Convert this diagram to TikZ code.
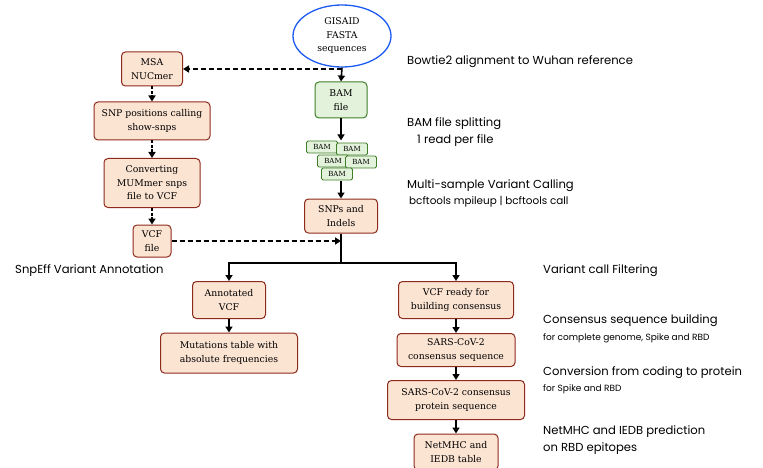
\documentclass[tikz,border=0pt]{standalone}
\usepackage{fontspec}
\setmainfont{DejaVu Serif}
\newfontfamily\stagefont{Poppins}
\usetikzlibrary{positioning,arrows.meta,fit,shapes.geometric}
\definecolor{procFill}{HTML}{FCE4D3}
\definecolor{procStroke}{HTML}{8E2A1C}
\definecolor{bamFill}{HTML}{E3F2DA}
\definecolor{bamStroke}{HTML}{3F7F2C}
\definecolor{srcStroke}{HTML}{1E5BF0}

\begin{document}
\begin{tikzpicture}[
  x=1pt, y=-1pt,
  font=\fontsize{9.3}{13.5}\selectfont,
  proc/.style  ={draw=procStroke, fill=procFill, rounded corners=4pt, line width=1pt, align=center, inner sep=1pt},
  bamf/.style  ={draw=bamStroke, fill=bamFill, rounded corners=4pt, line width=1pt, align=center, inner sep=1pt},
  bamchip/.style={draw=bamStroke, fill=bamFill, rounded corners=1.5pt, line width=0.8pt, minimum width=31pt, minimum height=12pt, inner sep=0pt, font=\fontsize{7}{7}\selectfont},
  src/.style   ={ellipse, draw=srcStroke, line width=1.3pt, fill=white, align=center, inner sep=0pt},
  arr/.style   ={-{Triangle[length=6pt,width=7pt]}, line width=1.6pt},
  dasharr/.style={arr, dash pattern=on 5pt off 3pt},
  dotarr/.style ={arr, dash pattern=on 3pt off 1.5pt},
  stage/.style ={font=\stagefont\fontsize{11.6}{13}\selectfont, anchor=west, inner sep=0pt},
  sub/.style   ={font=\stagefont\fontsize{9}{10}\selectfont, anchor=west, inner sep=0pt},
]
\useasboundingbox (0,0) rectangle (763,468);

% ==================== source + reference mapping ====================
\node[src, minimum width=98pt, minimum height=62pt] (gisaid) at (342,36) {GISAID\\FASTA\\sequences};
\node[bamf, minimum width=52pt, minimum height=36pt] (bam) at (341,100) {BAM\\file};

% split BAM files
\node[bamchip] (b1) at (322,147) {BAM};
\node[bamchip] (b2) at (352,149) {BAM};
\node[bamchip] (b3) at (333,161) {BAM};
\node[bamchip] (b4) at (361,162) {BAM};
\node[bamchip] (b5) at (337,174) {BAM};
\node[fit=(b1)(b2)(b3)(b4)(b5), inner sep=0pt] (stack) {};

\node[proc, minimum width=73pt, minimum height=34pt] (snps) at (341,216) {SNPs and\\Indels};

% ==================== left: NUCmer branch ====================
\node[proc, minimum width=61pt, minimum height=34pt] (msa) at (152,69) {MSA\\NUCmer};
\node[proc, minimum width=116pt, minimum height=38pt] (snppos) at (152,121) {SNP positions calling\\show-snps};
\node[proc, minimum width=96pt, minimum height=49pt] (convert) at (152,183) {Converting\\MUMmer snps\\file to VCF};
\node[proc, minimum width=38pt, minimum height=32pt] (vcf) at (152,241) {VCF\\file};

% ==================== lower branches ====================
\node[proc, minimum width=73pt, minimum height=37pt] (annot) at (229,300) {Annotated\\VCF};
\node[proc, minimum width=137pt, minimum height=40pt] (mutt) at (229,353) {Mutations table with\\absolute frequencies};
\node[proc, minimum width=115pt, minimum height=37pt] (ready) at (456,300) {VCF ready for\\building consensus};
\node[proc, minimum width=118pt, minimum height=33pt] (cons) at (456,350) {SARS-CoV-2\\consensus sequence};
\node[proc, minimum width=137pt, minimum height=39pt] (prot) at (456,400) {SARS-CoV-2 consensus\\protein sequence};
\node[proc, minimum width=84pt, minimum height=36pt] (netmhc) at (456,452) {NetMHC and\\IEDB table};

% Arrows
\coordinate (tap) at (gisaid.south |- msa.east);
\draw[arr] (gisaid.south) -- (bam.north);
\draw[dasharr] (tap) -- (msa.east);
\draw[arr] (bam.south) -- (bam.south |- stack.north);
\draw[arr] (bam.south |- stack.south) -- (snps.north);

\draw[dotarr] (msa.south) -- (snppos.north);
\draw[dotarr] (snppos.south) -- (convert.north);
\draw[dotarr] (convert.south) -- (vcf.north);
\coordinate (vcfhit) at (snps.south |- vcf.east);
\draw[dasharr] (vcf.east) -- (vcfhit);

\coordinate (junc) at (snps.south |- 0,263);
\draw[line width=1.6pt] (snps.south) -- (junc);
\draw[arr] (junc) -| (annot.north);
\draw[arr] (junc) -| (ready.north);

\draw[arr] (annot.south) -- (mutt.north);
\draw[arr] (ready.south) -- (cons.north);
\draw[arr] (cons.south) -- (prot.north);
\draw[arr] (prot.south) -- (netmhc.north);

% ==================== stage labels ====================
\node[stage] (lblBowtie) at (407,62) {Bowtie2 alignment to Wuhan reference};
\node[stage] (lblSplit) at (407,124) {BAM file splitting};
\node[stage] (lblRead) at (417,141) {1 read per file};
\node[stage] (lblCall) at (407,186) {Multi-sample Variant Calling};
\node[sub, font=\stagefont\fontsize{10.4}{11}\selectfont] (lblBcf) at (409,202) {bcftools mpileup | bcftools call};
\node[stage] (lblSnpEff) at (15,271) {SnpEff Variant Annotation};
\node[stage] (lblFilter) at (543,271) {Variant call Filtering};
\node[stage] (lblCons) at (543,321) {Consensus sequence building};
\node[sub] (lblConsSub) at (543,338) {for complete genome, Spike and RBD};
\node[stage] (lblConv) at (543,373) {Conversion from coding to protein};
\node[sub] (lblConvSub) at (543,389) {for Spike and RBD};
\node[stage] (lblNet) at (543,432) {NetMHC and IEDB prediction};
\node[stage] (lblNetSub) at (543,449) {on RBD epitopes};

\end{tikzpicture}
\end{document}
